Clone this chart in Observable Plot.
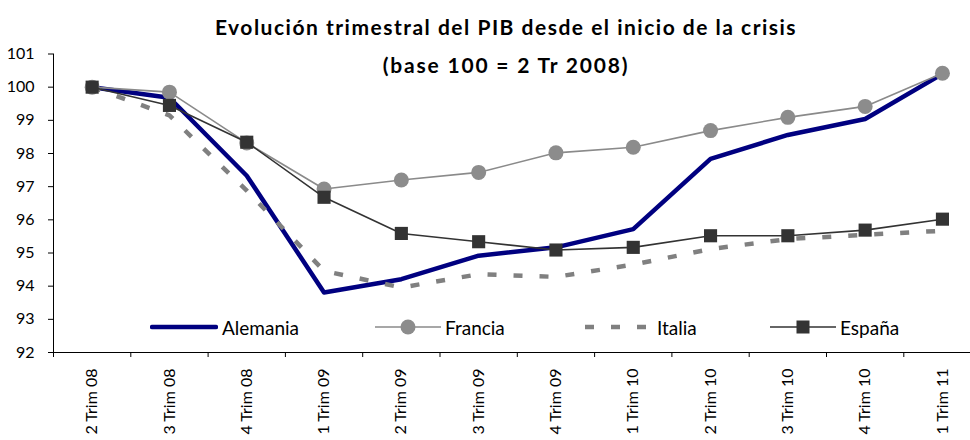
<!DOCTYPE html>
<html>
<head>
<meta charset="utf-8">
<script src="https://cdn.jsdelivr.net/npm/d3@7"></script>
<script src="https://cdn.jsdelivr.net/npm/@observablehq/plot@0.6"></script>
<style>
  html, body { margin: 0; padding: 0; background: #fff; }
  #wrap { position: relative; width: 970px; height: 440px; overflow: hidden; font-family: Lato, "Open Sans", sans-serif; color: #000; }
  #wrap svg { position: absolute; left: 0; top: 0; }
  .title { position: absolute; left: 0; width: 1012px; text-align: center; font-weight: bold; white-space: nowrap; }
  #t1 { top: 14px; font-size: 21px; letter-spacing: 1.5px; }
  #t2 { top: 52px; font-size: 21px; letter-spacing: 1.8px; }
  .leg { position: absolute; top: 314px; height: 26px; display: flex; align-items: center; font-size: 19px; white-space: nowrap; }
  .leg svg { position: static !important; margin-right: 4px; }
</style>
</head>
<body>
<div id="wrap"></div>
<script>
const titleText = "Evolución trimestral del PIB desde el inicio de la crisis";
const subtitleText = "(base 100 = 2 Tr 2008)";
const quarters = ["2 Trim 08", "3 Trim 08", "4 Trim 08", "1 Trim 09", "2 Trim 09", "3 Trim 09", "4 Trim 09", "1 Trim 10", "2 Trim 10", "3 Trim 10", "4 Trim 10", "1 Trim 11"];
const yTicks = [92, 93, 94, 95, 96, 97, 98, 99, 100, 101];
const alemania = [100, 99.68, 97.33, 93.81, 94.21, 94.92, 95.17, 95.72, 97.84, 98.56, 99.04, 100.40];
const francia  = [100, 99.85, 98.32, 96.93, 97.20, 97.43, 98.02, 98.19, 98.69, 99.09, 99.42, 100.42];
const italia   = [100, 99.15, 96.88, 94.46, 93.96, 94.36, 94.28, 94.65, 95.12, 95.42, 95.55, 95.67];
const espana   = [100, 99.45, 98.34, 96.68, 95.59, 95.34, 95.09, 95.17, 95.52, 95.52, 95.69, 96.02];
const seriesNames = ["Alemania", "Francia", "Italia", "España"];

const toRows = (name, vals) => vals.map((v, i) => ({serie: name, i, q: quarters[i], v}));
const rowsAle = toRows("Alemania", alemania);
const rowsFra = toRows("Francia", francia);
const rowsIta = toRows("Italia", italia);
const rowsEsp = toRows("España", espana);

const n = quarters.length;
const bounds = d3.range(n + 1).map(i => i - 0.5);

const chart = Plot.plot({
  width: 970,
  height: 440,
  marginTop: 53.5,
  marginBottom: 88,
  marginLeft: 53,
  marginRight: 0,
  x: {domain: [-0.5, n - 0.5], range: [53, 980.6]},
  y: {domain: [92, 101]},
  style: {fontFamily: "Lato, 'Open Sans', sans-serif", color: "#000", background: "transparent"},
  marks: [
    Plot.axisY({ticks: yTicks, tickSize: 5, tickPadding: 14, fontSize: 16, tickFormat: d => String(d), label: null, stroke: "#000"}),
    Plot.axisX({ticks: bounds, tickSize: 5, tickFormat: () => "", label: null}),
    Plot.axisX({ticks: d3.range(n), tickSize: 0, tickPadding: 16, tickRotate: -90, fontSize: 16, tickFormat: i => quarters[i], label: null}),
    Plot.ruleY([92], {stroke: "#000"}),
    Plot.ruleX([-0.5], {y1: 92, y2: 101, stroke: "#000"}),
    Plot.line(rowsAle, {x: "i", y: "v", stroke: "#000080", strokeWidth: 4.5}),
    Plot.line(rowsFra, {x: "i", y: "v", stroke: "#8a8a8a", strokeWidth: 1.6}),
    Plot.dot(rowsFra, {x: "i", y: "v", r: 7.5, fill: "#8c8c8c", stroke: "none"}),
    Plot.line(rowsIta, {x: "i", y: "v", stroke: "#808080", strokeWidth: 4.5, strokeDasharray: "9,17", strokeLinecap: "butt"}),
    Plot.line(rowsEsp, {x: "i", y: "v", stroke: "#333333", strokeWidth: 1.6}),
    Plot.dot(rowsEsp, {x: "i", y: "v", symbol: "square", r: 7.4, fill: "#333333", stroke: "none"})
  ]
});

const wrap = document.getElementById("wrap");
wrap.appendChild(chart);

const t1 = document.createElement("div");
t1.className = "title"; t1.id = "t1"; t1.textContent = titleText;
wrap.appendChild(t1);
const t2 = document.createElement("div");
t2.className = "title"; t2.id = "t2"; t2.textContent = subtitleText;
wrap.appendChild(t2);

// legend
const legendLeft = [150, 375, 585, 770];
const swatch = {
  "Alemania": `<svg width="68" height="20"><line x1="2" y1="10" x2="66" y2="10" stroke="#000080" stroke-width="4.5" stroke-linecap="round"/></svg>`,
  "Francia": `<svg width="66" height="20"><line x1="0" y1="10" x2="66" y2="10" stroke="#8a8a8a" stroke-width="1.6"/><circle cx="33" cy="10" r="7.5" fill="#8c8c8c"/></svg>`,
  "Italia": `<svg width="68" height="20"><line x1="0" y1="10" x2="68" y2="10" stroke="#808080" stroke-width="4.5" stroke-dasharray="9,17"/></svg>`,
  "España": `<svg width="66" height="20"><line x1="0" y1="10" x2="66" y2="10" stroke="#333333" stroke-width="1.6"/><rect x="26.5" y="3.5" width="13" height="13" fill="#333333"/></svg>`
};
seriesNames.forEach((name, k) => {
  const d = document.createElement("div");
  d.className = "leg";
  d.style.left = legendLeft[k] + "px";
  d.innerHTML = swatch[name] + `<span>${name}</span>`;
  wrap.appendChild(d);
});
</script>
</body>
</html>
